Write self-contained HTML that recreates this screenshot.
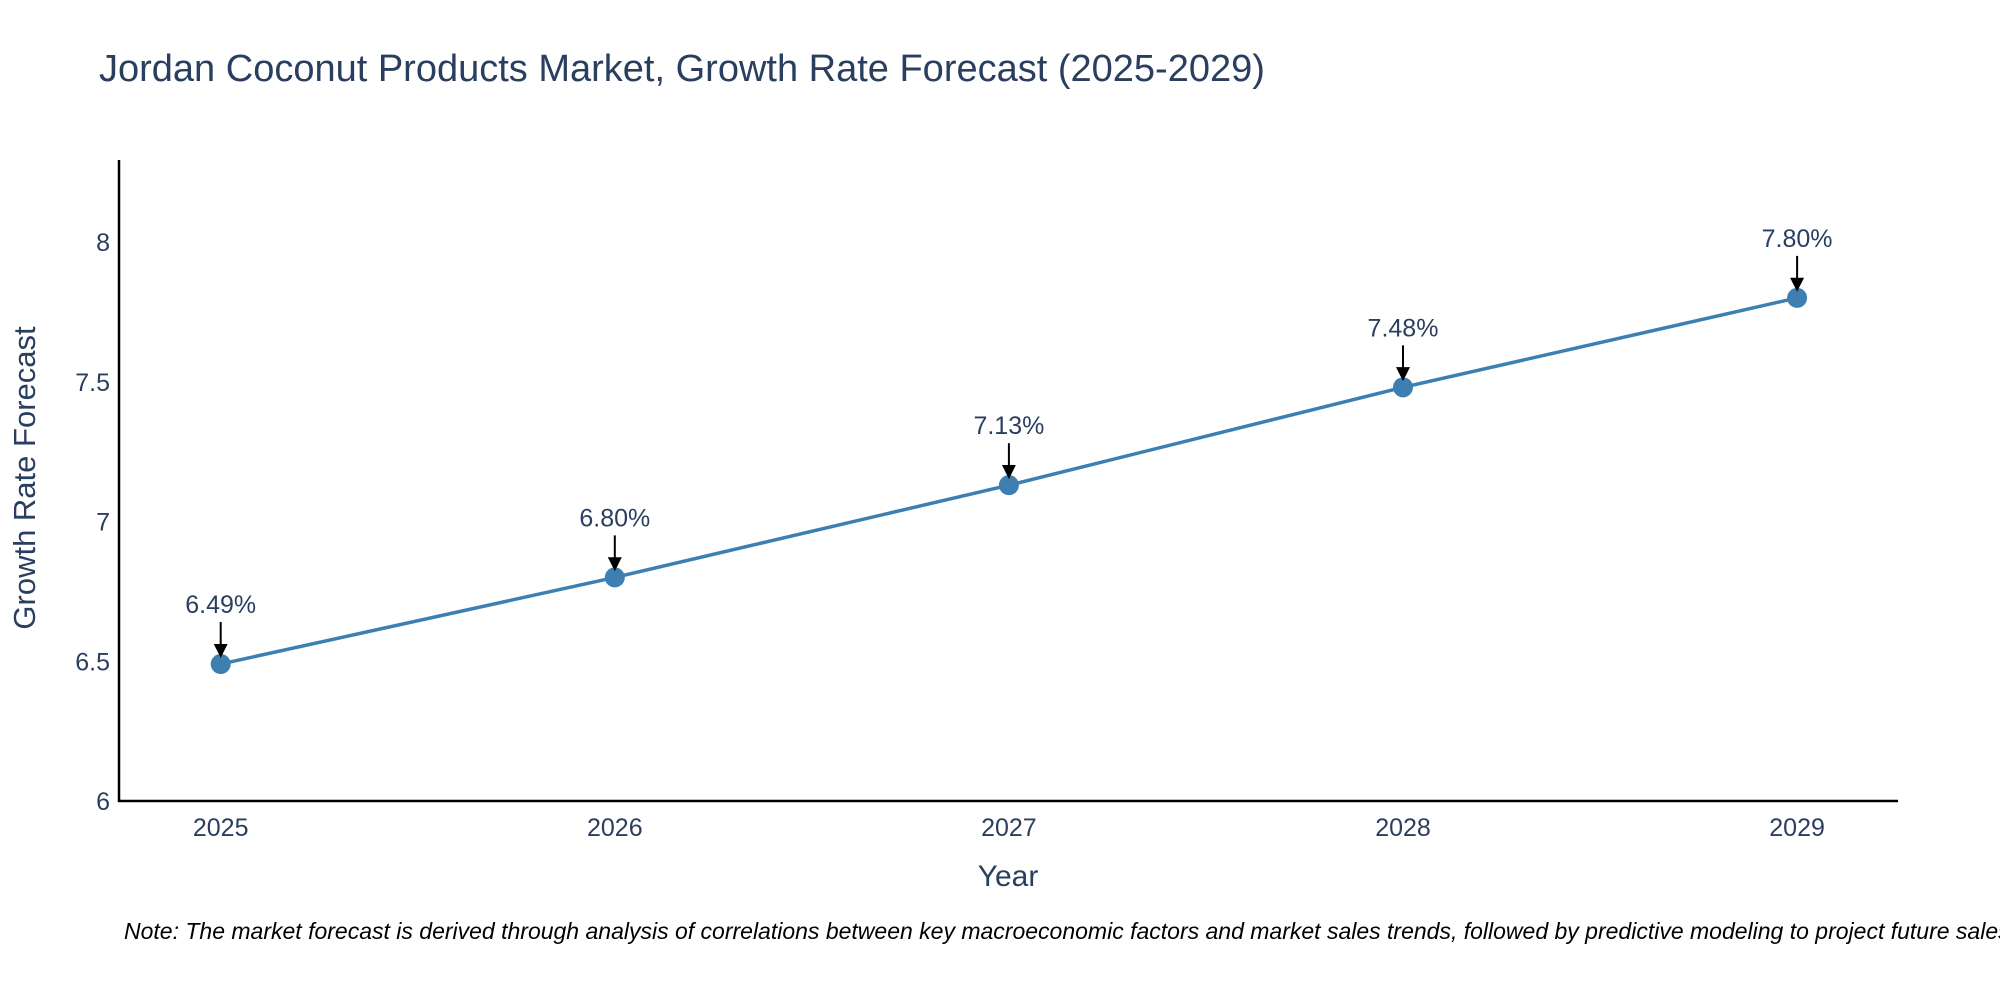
<!DOCTYPE html>
<html><head><meta charset="utf-8"><style>
body{margin:0;background:#fff;overflow:hidden;}
svg text{font-family:"Liberation Sans",sans-serif;fill:#2a3f5f;}
</style></head><body>
<svg id="chart" width="2000" height="1000" viewBox="0 0 2000 1000">
<defs><marker id="ah" viewBox="0 0 10 10" refX="8" refY="5" markerWidth="7" markerHeight="7" orient="auto"><path d="M0,0 L10,5 L0,10 z" fill="#000"/></marker></defs>
<text x="99" y="81" font-size="38">Jordan Coconut Products Market, Growth Rate Forecast (2025-2029)</text>
<g id="yticks"></g><g id="xticks"></g>
<line x1="119" y1="160" x2="119" y2="802" stroke="#000" stroke-width="2.5"/>
<line x1="118" y1="801" x2="1898" y2="801" stroke="#000" stroke-width="2.5"/>
<text transform="translate(35,478) rotate(-90)" text-anchor="middle" font-size="31">Growth Rate Forecast</text>
<text x="1008" y="886" text-anchor="middle" font-size="30">Year</text>
<g id="series"></g>
<text x="124" y="939" font-size="23" font-style="italic" style="fill:#000">Note: The market forecast is derived through analysis of correlations between key macroeconomic factors and market sales trends, followed by predictive modeling to project future sales.</text>
</svg>
<script>
const years=[2025,2026,2027,2028,2029];
const rates=[6.49,6.80,7.13,7.48,7.80];
const labels=["6.49%","6.80%","7.13%","7.48%","7.80%"];
const yTickVals=[6,6.5,7,7.5,8];
const yTickLabels=["6","6.5","7","7.5","8"];
const NS="http://www.w3.org/2000/svg";
function xs(v){return 220.7+(v-2025)*394.1;}
function ys(v){return 801-(v-6)*279.5;}
function mk(t,a,p){const e=document.createElementNS(NS,t);for(const k in a)e.setAttribute(k,a[k]);p.appendChild(e);return e;}
const yt=document.getElementById('yticks');
yTickVals.forEach((v,i)=>{const t=mk('text',{x:110,y:ys(v)+9,'text-anchor':'end','font-size':25},yt);t.textContent=yTickLabels[i];

});
const xt=document.getElementById('xticks');
years.forEach(v=>{const t=mk('text',{x:xs(v),y:836,'text-anchor':'middle','font-size':25},xt);t.textContent=String(v);

});
const s=document.getElementById('series');
const pl=mk('polyline',{points:years.map((y,i)=>xs(y)+','+ys(rates[i])).join(' '),fill:'none',stroke:'#3d7fb0','stroke-width':3.5},s);


years.forEach((y,i)=>{const cx=xs(y),cy=ys(rates[i]);
const c=mk('circle',{cx:cx,cy:cy,r:10,fill:'#3d7fb0'},s);


const a=mk('line',{x1:cx,y1:cy-42,x2:cx,y2:cy-9,stroke:'#000','stroke-width':2,'marker-end':'url(#ah)'},s);


const t=mk('text',{x:cx,y:cy-51,'text-anchor':'middle','font-size':25},s);t.textContent=labels[i];

});
</script>
</body></html>
